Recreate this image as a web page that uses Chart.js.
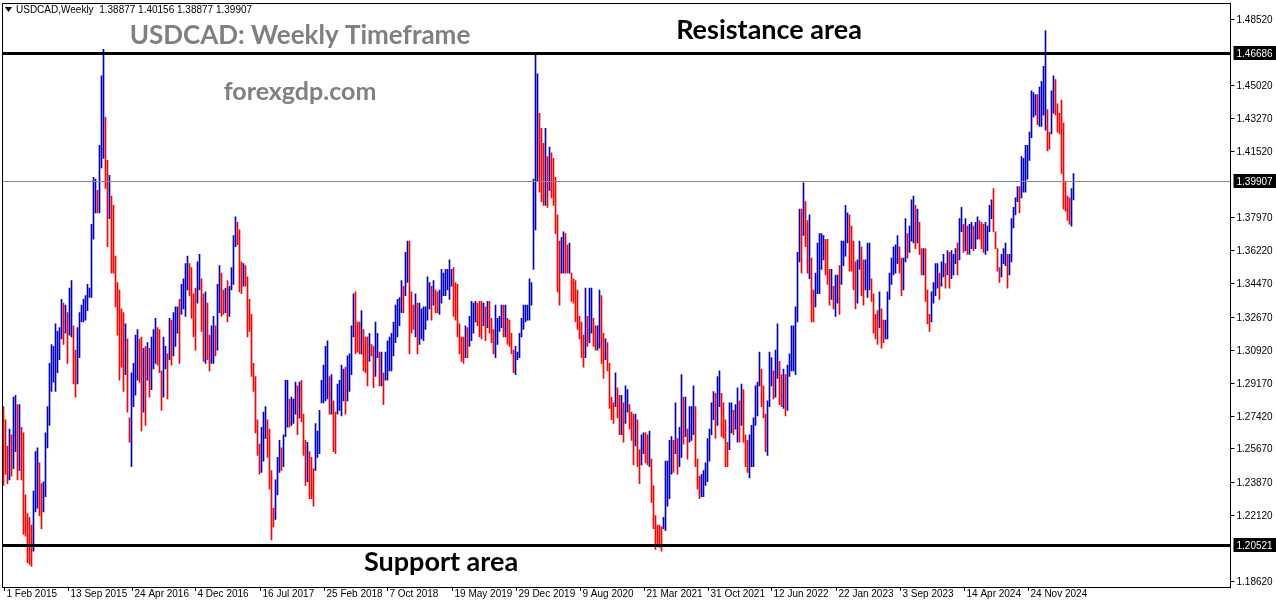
<!DOCTYPE html>
<html>
<head>
<meta charset="utf-8">
<script src="https://cdn.jsdelivr.net/npm/chart.js@4"></script>
<style>
html, body { margin: 0; padding: 0; background: #fff; }
#wrap { width: 1276px; height: 604px; }
</style>
</head>
<body>
<div id="wrap"><canvas id="chart" width="1276" height="604"></canvas></div>
<script>
// weekly highs / lows, USDCAD, first bar = week of 1 Feb 2015
const highs = [
1.279,1.272,1.258,1.267,1.264,1.284,1.285,1.280,1.280,1.268,1.265,1.232,1.222,1.220,1.216,1.234,1.255,1.257,1.249,1.238,
1.239,1.265,1.279,1.302,1.312,1.311,1.323,1.319,1.321,1.336,1.334,1.333,1.329,1.342,1.346,1.322,1.309,1.321,1.329,1.333,
1.336,1.338,1.344,1.342,1.376,1.401,1.400,1.394,1.418,1.455,1.469,1.433,1.410,1.402,1.391,1.386,1.359,1.345,1.341,1.331,
1.329,1.323,1.315,1.273,1.297,1.302,1.317,1.320,1.315,1.316,1.310,1.311,1.313,1.310,1.316,1.320,1.326,1.321,1.320,1.298,
1.316,1.311,1.307,1.326,1.325,1.329,1.332,1.332,1.336,1.344,1.347,1.355,1.359,1.355,1.353,1.339,1.342,1.356,1.360,1.347,
1.339,1.340,1.334,1.317,1.322,1.327,1.322,1.344,1.354,1.350,1.341,1.342,1.346,1.343,1.353,1.370,1.380,1.377,1.373,1.356,
1.355,1.354,1.348,1.336,1.328,1.302,1.295,1.272,1.259,1.268,1.276,1.279,1.272,1.267,1.245,1.225,1.240,1.252,1.261,1.257,
1.264,1.293,1.293,1.283,1.284,1.283,1.292,1.290,1.292,1.293,1.275,1.261,1.260,1.255,1.252,1.246,1.270,1.266,1.277,1.293,
1.301,1.311,1.314,1.295,1.296,1.282,1.276,1.291,1.293,1.301,1.299,1.300,1.306,1.307,1.322,1.339,1.340,1.324,1.324,1.330,
1.320,1.316,1.316,1.318,1.312,1.311,1.324,1.318,1.308,1.308,1.297,1.308,1.314,1.316,1.318,1.324,1.333,1.336,1.337,1.346,
1.343,1.361,1.367,1.367,1.340,1.333,1.339,1.334,1.334,1.331,1.332,1.332,1.348,1.345,1.343,1.346,1.341,1.340,1.341,1.352,
1.350,1.352,1.352,1.357,1.352,1.353,1.345,1.344,1.323,1.316,1.316,1.322,1.321,1.327,1.335,1.334,1.335,1.334,1.335,1.335,
1.334,1.332,1.335,1.335,1.326,1.320,1.333,1.326,1.327,1.333,1.333,1.333,1.326,1.325,1.318,1.309,1.311,1.308,1.318,1.326,
1.333,1.333,1.333,1.347,1.345,1.400,1.466,1.456,1.435,1.427,1.419,1.427,1.412,1.417,1.414,1.411,1.401,1.381,1.367,1.369,
1.372,1.371,1.365,1.366,1.350,1.347,1.346,1.341,1.327,1.324,1.317,1.342,1.327,1.342,1.342,1.326,1.322,1.322,1.341,1.338,
1.318,1.315,1.313,1.302,1.284,1.281,1.297,1.289,1.285,1.285,1.281,1.290,1.288,1.280,1.276,1.275,1.275,1.272,1.256,1.264,
1.265,1.265,1.264,1.266,1.251,1.237,1.221,1.216,1.216,1.215,1.220,1.250,1.250,1.261,1.263,1.261,1.281,1.262,1.268,1.296,
1.284,1.284,1.267,1.279,1.279,1.290,1.279,1.251,1.242,1.243,1.245,1.249,1.262,1.267,1.281,1.287,1.286,1.295,1.298,1.286,
1.281,1.272,1.260,1.281,1.281,1.277,1.280,1.289,1.282,1.291,1.288,1.264,1.261,1.264,1.269,1.273,1.290,1.292,1.308,1.299,
1.290,1.275,1.282,1.308,1.305,1.298,1.309,1.323,1.303,1.296,1.299,1.296,1.301,1.307,1.322,1.322,1.332,1.361,1.384,1.384,
1.398,1.388,1.378,1.381,1.358,1.341,1.350,1.366,1.371,1.371,1.370,1.368,1.368,1.352,1.352,1.343,1.349,1.349,1.354,1.367,
1.367,1.386,1.382,1.381,1.375,1.367,1.356,1.357,1.367,1.364,1.357,1.357,1.366,1.366,1.347,1.339,1.328,1.330,1.340,1.331,
1.325,1.325,1.340,1.350,1.358,1.364,1.365,1.370,1.364,1.358,1.358,1.379,1.371,1.375,1.389,1.391,1.386,1.384,1.377,1.363,
1.363,1.363,1.341,1.328,1.340,1.345,1.355,1.355,1.350,1.356,1.360,1.355,1.362,1.361,1.362,1.360,1.363,1.366,1.379,1.385,
1.376,1.379,1.375,1.376,1.377,1.375,1.377,1.380,1.378,1.377,1.376,1.377,1.375,1.386,1.389,1.395,1.372,1.363,1.353,1.360,
1.363,1.366,1.360,1.360,1.379,1.385,1.390,1.396,1.396,1.412,1.411,1.418,1.418,1.425,1.447,1.446,1.445,1.445,1.449,1.452,
1.460,1.479,1.437,1.425,1.447,1.455,1.453,1.440,1.435,1.442,1.430,1.399,1.391,1.390,1.395,1.403
];
const lows = [
1.237,1.243,1.238,1.240,1.242,1.246,1.255,1.240,1.245,1.240,1.211,1.210,1.196,1.195,1.194,1.202,1.223,1.225,1.221,1.214,
1.223,1.231,1.257,1.269,1.287,1.292,1.287,1.297,1.304,1.315,1.312,1.318,1.302,1.317,1.316,1.291,1.284,1.291,1.305,1.324,
1.324,1.325,1.330,1.337,1.337,1.368,1.382,1.382,1.382,1.406,1.411,1.395,1.364,1.379,1.350,1.350,1.332,1.317,1.293,1.300,
1.287,1.296,1.276,1.260,1.247,1.279,1.285,1.293,1.292,1.266,1.276,1.269,1.293,1.284,1.288,1.299,1.302,1.301,1.297,1.277,
1.284,1.299,1.283,1.304,1.301,1.306,1.311,1.318,1.302,1.328,1.331,1.327,1.341,1.338,1.326,1.316,1.309,1.334,1.341,1.319,
1.303,1.302,1.304,1.298,1.302,1.302,1.306,1.309,1.329,1.327,1.328,1.329,1.324,1.327,1.341,1.344,1.364,1.365,1.340,1.339,
1.343,1.343,1.316,1.319,1.295,1.287,1.265,1.253,1.243,1.244,1.250,1.262,1.252,1.235,1.208,1.215,1.219,1.232,1.244,1.245,
1.247,1.263,1.268,1.268,1.269,1.270,1.275,1.264,1.273,1.271,1.253,1.237,1.239,1.230,1.230,1.226,1.245,1.252,1.254,1.281,
1.281,1.282,1.283,1.275,1.275,1.255,1.254,1.275,1.277,1.274,1.282,1.275,1.282,1.287,1.296,1.316,1.307,1.308,1.307,1.307,
1.298,1.297,1.290,1.303,1.306,1.289,1.295,1.305,1.290,1.290,1.280,1.293,1.293,1.298,1.298,1.306,1.313,1.316,1.322,1.329,
1.329,1.338,1.345,1.307,1.318,1.320,1.316,1.307,1.312,1.315,1.314,1.320,1.325,1.331,1.325,1.333,1.329,1.329,1.328,1.334,
1.338,1.338,1.341,1.336,1.343,1.327,1.325,1.316,1.307,1.303,1.302,1.305,1.305,1.311,1.314,1.318,1.324,1.322,1.316,1.315,
1.322,1.314,1.321,1.318,1.313,1.307,1.305,1.312,1.319,1.321,1.316,1.316,1.312,1.311,1.307,1.297,1.296,1.304,1.305,1.316,
1.320,1.324,1.325,1.325,1.333,1.352,1.373,1.399,1.393,1.388,1.386,1.386,1.385,1.394,1.390,1.386,1.371,1.340,1.333,1.350,
1.350,1.350,1.350,1.350,1.335,1.334,1.324,1.320,1.315,1.305,1.300,1.305,1.311,1.313,1.318,1.311,1.309,1.309,1.310,1.302,
1.294,1.304,1.298,1.278,1.272,1.270,1.279,1.273,1.264,1.264,1.260,1.270,1.276,1.267,1.261,1.248,1.258,1.247,1.238,1.248,
1.254,1.249,1.248,1.247,1.228,1.214,1.203,1.205,1.204,1.202,1.214,1.213,1.226,1.230,1.243,1.244,1.254,1.243,1.247,1.252,
1.259,1.263,1.251,1.260,1.261,1.264,1.247,1.235,1.230,1.231,1.231,1.237,1.239,1.250,1.264,1.272,1.262,1.269,1.279,1.263,
1.262,1.247,1.247,1.256,1.265,1.264,1.267,1.260,1.260,1.269,1.260,1.247,1.244,1.241,1.247,1.247,1.269,1.274,1.290,1.279,
1.273,1.255,1.253,1.279,1.290,1.283,1.284,1.294,1.280,1.279,1.278,1.274,1.277,1.295,1.298,1.298,1.296,1.324,1.356,1.350,
1.370,1.364,1.350,1.347,1.324,1.324,1.332,1.339,1.339,1.352,1.357,1.349,1.344,1.333,1.336,1.331,1.327,1.334,1.328,1.344,
1.354,1.359,1.366,1.351,1.351,1.341,1.331,1.334,1.352,1.338,1.333,1.341,1.337,1.341,1.335,1.318,1.315,1.312,1.321,1.310,
1.313,1.315,1.315,1.336,1.344,1.349,1.350,1.355,1.350,1.338,1.341,1.356,1.358,1.361,1.367,1.366,1.363,1.366,1.360,1.349,
1.349,1.335,1.323,1.319,1.324,1.334,1.338,1.342,1.336,1.343,1.348,1.342,1.349,1.342,1.347,1.349,1.355,1.349,1.357,1.372,
1.361,1.362,1.360,1.360,1.363,1.362,1.363,1.368,1.368,1.363,1.361,1.360,1.362,1.372,1.379,1.372,1.363,1.351,1.345,1.348,
1.355,1.354,1.342,1.349,1.356,1.374,1.381,1.388,1.382,1.390,1.393,1.393,1.400,1.410,1.422,1.433,1.434,1.429,1.428,1.428,
1.434,1.426,1.415,1.416,1.424,1.435,1.434,1.425,1.424,1.403,1.384,1.383,1.378,1.376,1.375,1.389
];
const dateLabels = ['1 Feb 2015','13 Sep 2015','24 Apr 2016','4 Dec 2016','16 Jul 2017','25 Feb 2018','7 Oct 2018',
  '19 May 2019','29 Dec 2019','9 Aug 2020','21 Mar 2021','31 Oct 2021','12 Jun 2022','22 Jan 2023','3 Sep 2023',
  '14 Apr 2024','24 Nov 2024'];
const priceTicks = [1.48520,1.45020,1.43270,1.41520,1.37970,1.36220,1.34470,1.32670,1.30920,1.29170,1.27420,1.25670,1.23870,1.22120,1.18620];
const resistance = 1.46686;
const support = 1.20521;
const lastPrice = 1.39907;
const labelEvery = 32;
const totalSlots = 614;

const labels = [];
for (let i = 0; i < totalSlots; i++) labels.push(i);
const ranges = highs.map((h, i) => [lows[i], h]);
const colors = highs.map((h, i) => {
    if (i === 0) return '#ff0000';
    return (h + lows[i]) >= (highs[i - 1] + lows[i - 1]) ? '#0000cc' : '#ff0000';
});

const axisFont = '10px "Liberation Sans"';

const overlay = {
    id: 'overlay',
    afterDatasetsDraw(chart) {
        const { ctx, chartArea: a, scales: { x, y } } = chart;
        ctx.save();
        // horizontal levels
        ctx.strokeStyle = '#888';
        ctx.lineWidth = 1;
        let py = Math.round(y.getPixelForValue(lastPrice)) + 0.5;
        ctx.beginPath(); ctx.moveTo(a.left, py); ctx.lineTo(a.right, py); ctx.stroke();
        ctx.strokeStyle = '#000';
        ctx.lineWidth = 3;
        [resistance, support].forEach(v => {
            const yy = Math.round(y.getPixelForValue(v)) + 0.5;
            ctx.beginPath(); ctx.moveTo(a.left, yy); ctx.lineTo(a.right, yy); ctx.stroke();
        });
        // frame
        ctx.lineWidth = 1;
        ctx.strokeRect(Math.floor(a.left) + 0.5, Math.floor(a.top) + 0.5, Math.round(a.right - a.left), Math.round(a.bottom - a.top));
        // right axis
        ctx.font = axisFont;
        ctx.fillStyle = '#000';
        ctx.textBaseline = 'middle';
        ctx.textAlign = 'left';
        priceTicks.forEach(v => {
            const yy = Math.round(y.getPixelForValue(v)) + 0.5;
            ctx.beginPath(); ctx.moveTo(a.right, yy); ctx.lineTo(a.right + 4, yy); ctx.stroke();
            ctx.fillText(v.toFixed(5), a.right + 6, yy + 1);
        });
        [resistance, lastPrice, support].forEach(v => {
            const yy = Math.round(y.getPixelForValue(v));
            ctx.fillStyle = '#000';
            ctx.fillRect(a.right + 3, yy - 7, 43, 14);
            ctx.fillStyle = '#fff';
            ctx.fillText(v.toFixed(5), a.right + 6, yy + 1);
        });
        // bottom axis
        ctx.fillStyle = '#000';
        ctx.textBaseline = 'top';
        dateLabels.forEach((t, i) => {
            const xx = Math.round(x.getPixelForValue(i * labelEvery)) + 0.5;
            ctx.beginPath(); ctx.moveTo(xx, a.bottom); ctx.lineTo(xx, a.bottom + 4); ctx.stroke();
            ctx.fillText(t, xx + 2, a.bottom + 2);
        });
        // header
        ctx.textBaseline = 'middle';
        ctx.beginPath(); ctx.moveTo(5, 7); ctx.lineTo(12, 7); ctx.lineTo(8.5, 12); ctx.closePath(); ctx.fill();
        ctx.fillText('USDCAD,Weekly  1.38877 1.40156 1.38877 1.39907', 16, 10);
        // titles
        ctx.textAlign = 'center';
        ctx.font = 'bold 26px Lato';
        ctx.fillStyle = '#808080';
        ctx.fillText('USDCAD: Weekly Timeframe', 300, 36);
        ctx.font = 'bold 25px Lato';
        ctx.fillText('forexgdp.com', 300, 92);
        ctx.fillStyle = '#000';
        ctx.font = 'bold 27px Lato';
        ctx.fillText('Resistance area', 769, 30);
        ctx.fillText('Support area', 441, 562);
        ctx.restore();
    }
};

new Chart(document.getElementById('chart'), {
    type: 'bar',
    data: {
        labels,
        datasets: [{
            data: ranges,
            backgroundColor: colors,
            borderWidth: 0,
            barThickness: 1,
            grouped: false
        }]
    },
    options: {
        responsive: false,
        animation: false,
        devicePixelRatio: 1,
        layout: { padding: { left: 2.5, top: 3, right: 45.5, bottom: 17 } },
        plugins: { legend: { display: false }, tooltip: { enabled: false } },
        scales: {
            x: { display: false, offset: true },
            y: { display: false, min: 1.1830, max: 1.4937 }
        }
    },
    plugins: [overlay]
});
</script>
</body>
</html>
